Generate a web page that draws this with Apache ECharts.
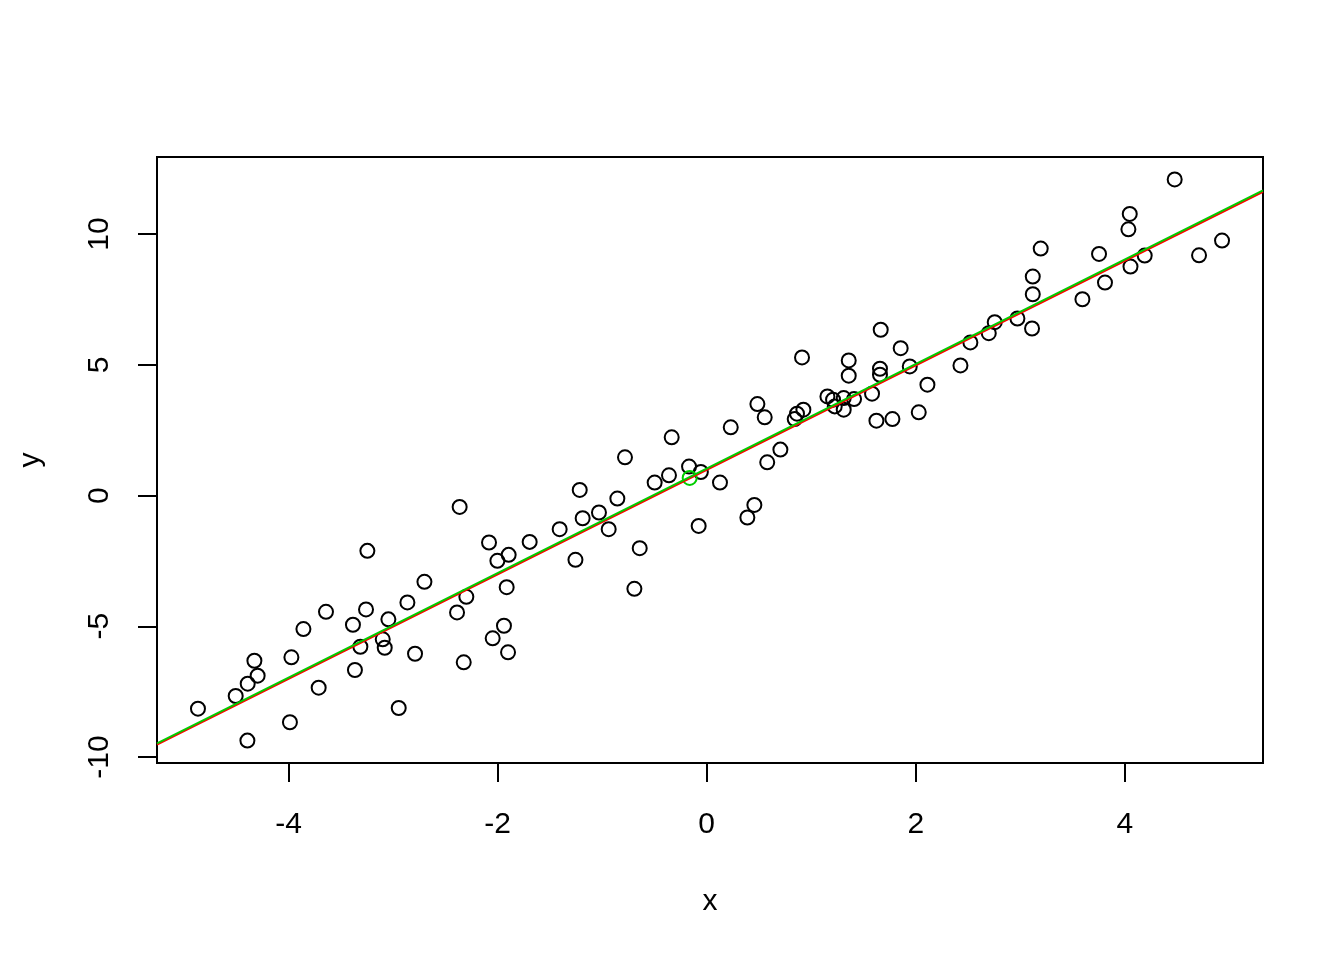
<!DOCTYPE html>
<html>
<head>
<meta charset="utf-8">
<script src="https://cdn.jsdelivr.net/npm/echarts@6/dist/echarts.min.js"></script>
<style>
  html, body { margin: 0; padding: 0; background: #fff; }
  #chart { width: 1344px; height: 960px; }
</style>
</head>
<body>
<div id="chart"></div>
<script>
// Observed points (x, y)
const xValues = [
  -4.868, -4.507, -4.392, -4.328, -4.297, -4.395, -3.988, -3.974, -3.859, -3.713,
  -3.643, -3.385, -3.366, -3.314, -3.260, -3.247, -3.100, -3.081, -3.046, -2.947,
  -2.864, -2.791, -2.701, -2.389, -2.364, -2.325, -2.300, -2.083, -2.048, -2.003,
  -1.940, -1.914, -1.895, -1.901, -1.694, -1.407, -1.256, -1.215, -1.187, -1.031,
  -0.938, -0.855, -0.782, -0.692, -0.641, -0.498, -0.361, -0.335, -0.169, -0.077,
  -0.056, 0.127, 0.230, 0.389, 0.456, 0.485, 0.555, 0.579, 0.705, 0.842,
  0.864, 0.912, 0.925, 1.155, 1.209, 1.225, 1.311, 1.311, 1.359, 1.359,
  1.410, 1.582, 1.624, 1.658, 1.658, 1.665, 1.777, 1.856, 1.943, 2.029,
  2.112, 2.428, 2.523, 2.699, 2.756, 2.973, 3.113, 3.120, 3.120, 3.196,
  3.595, 3.754, 3.811, 4.035, 4.048, 4.055, 4.191, 4.478, 4.711, 4.931
];
const yValues = [
  -8.151, -7.666, -7.196, -6.318, -6.891, -9.374, -8.671, -6.188, -5.107, -7.349,
  -4.446, -4.943, -6.673, -5.783, -4.354, -2.116, -5.500, -5.821, -4.736, -8.125,
  -4.087, -6.050, -3.300, -4.469, -0.435, -6.379, -3.873, -1.795, -5.462, -2.498,
  -4.981, -3.503, -2.269, -5.997, -1.772, -1.287, -2.460, 0.214, -0.867, -0.649,
  -1.287, -0.115, 1.463, -3.568, -2.013, 0.497, 0.775, 2.227, 1.108, -1.161,
  0.901, 0.497, 2.609, -0.840, -0.359, 3.499, 2.991, 1.272, 1.757, 2.926,
  3.132, 5.283, 3.285, 3.793, 3.667, 3.411, 3.285, 3.728, 5.168, 4.584,
  3.690, 3.896, 2.865, 4.851, 4.622, 6.341, 2.926, 5.638, 4.939, 3.182,
  4.240, 4.977, 5.856, 6.211, 6.631, 6.772, 6.390, 7.701, 8.377, 9.446,
  7.510, 9.244, 8.147, 10.183, 10.772, 8.759, 9.179, 12.093, 9.190, 9.752
];

// Reference line (red) and fitted line (green), endpoints at plot edges
const redLineX = [-5.26, 5.323];
const redLineY = [-9.53, 11.62];
const greenLineX = [-5.26, 5.323];
const greenLineY = [-9.48, 11.67];

// Mean point (green)
const meanPoint = [-0.163, 0.674];

// Axis ranges and ticks
const xRange = [-5.26, 5.323];
const yRange = [-10.23, 12.95];
const xTicks = [-4, -2, 0, 2, 4];
const yTicks = [-10, -5, 0, 5, 10];

const points = xValues.map((x, i) => [x, yValues[i]]);
const redLine = redLineX.map((x, i) => [x, redLineY[i]]);
const greenLine = greenLineX.map((x, i) => [x, greenLineY[i]]);

const FONT = '"Liberation Sans", Arial, Helvetica, sans-serif';

const chart = echarts.init(document.getElementById('chart'), null, { renderer: 'canvas' });
chart.setOption({
  animation: false,
  backgroundColor: '#ffffff',
  grid: {
    left: 157, right: 81, top: 157, bottom: 197,
    show: true, borderColor: '#000', borderWidth: 2, backgroundColor: 'transparent'
  },
  xAxis: {
    type: 'value',
    min: xRange[0], max: xRange[1],
    name: 'x', nameLocation: 'middle', nameGap: 124,
    nameTextStyle: { fontFamily: FONT, fontSize: 30, color: '#000' },
    axisLine: { show: true, onZero: false, lineStyle: { color: '#000', width: 2 } },
    splitLine: { show: false },
    axisTick: { show: true, inside: false, length: 19, lineStyle: { color: '#000', width: 2 }, customValues: xTicks },
    axisLabel: { fontFamily: FONT, fontSize: 30, color: '#000', margin: 47, customValues: xTicks }
  },
  yAxis: {
    type: 'value',
    min: yRange[0], max: yRange[1],
    name: 'y', nameLocation: 'middle', nameGap: 111, nameRotate: 90,
    nameTextStyle: { fontFamily: FONT, fontSize: 30, color: '#000' },
    axisLine: { show: true, onZero: false, lineStyle: { color: '#000', width: 2 } },
    splitLine: { show: false },
    axisTick: { show: true, inside: false, length: 19, lineStyle: { color: '#000', width: 2 }, customValues: yTicks },
    axisLabel: { fontFamily: FONT, fontSize: 30, color: '#000', margin: 42, rotate: 90, customValues: yTicks }
  },
  series: [
    {
      type: 'scatter',
      data: points,
      symbol: 'circle',
      symbolSize: 14,
      itemStyle: { color: 'rgba(0,0,0,0)', borderColor: '#000', borderWidth: 2, opacity: 1 },
      emphasis: { disabled: true }
    },
    {
      type: 'line',
      data: redLine,
      showSymbol: false,
      lineStyle: { color: '#FF0000', width: 2 },
      emphasis: { disabled: true }
    },
    {
      type: 'line',
      data: greenLine,
      showSymbol: false,
      lineStyle: { color: '#00CD00', width: 2 },
      emphasis: { disabled: true }
    },
    {
      type: 'scatter',
      data: [meanPoint],
      symbol: 'circle',
      symbolSize: 14,
      itemStyle: { color: 'rgba(0,0,0,0)', borderColor: '#00CD00', borderWidth: 2, opacity: 1 },
      emphasis: { disabled: true }
    }
  ]
});
</script>
</body>
</html>
